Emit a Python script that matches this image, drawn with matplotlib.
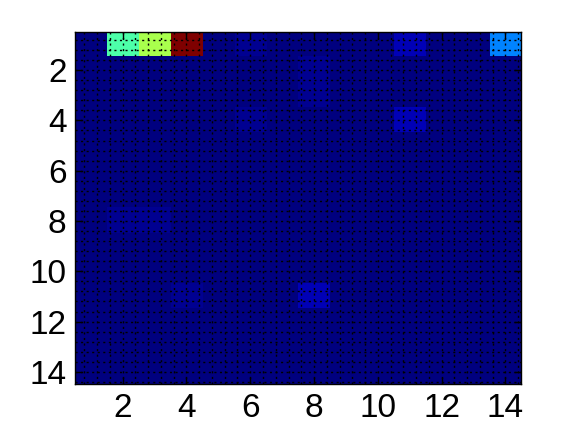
import numpy as np
import matplotlib
matplotlib.use('Agg')
import matplotlib.pyplot as plt
from matplotlib.ticker import MultipleLocator

plt.rcParams['font.family'] = ['Liberation Sans', 'DejaVu Sans']

# matrix values (rows 1..14, cols 1..14)
n = 14
vals = np.zeros((n, n))
# row 1
vals[0, 1] = 0.44
vals[0, 2] = 0.55
vals[0, 3] = 1.0
vals[0, 5] = 0.02
vals[0, 10] = 0.06
vals[0, 13] = 0.26
# faint cells elsewhere
vals[1, 7] = 0.02
vals[2, 7] = 0.03
vals[3, 5] = 0.02
vals[3, 10] = 0.05
vals[7, 1] = 0.03
vals[7, 2] = 0.03
vals[10, 3] = 0.02
vals[10, 7] = 0.05

x_ticks = [2, 4, 6, 8, 10, 12, 14]
y_ticks = [2, 4, 6, 8, 10, 12, 14]

fig = plt.figure(figsize=(5.76, 4.32), dpi=100)
ax = fig.add_axes([0.13, 0.11, 0.775, 0.815])
ax.imshow(vals, cmap=plt.get_cmap('jet', 64), vmin=0, vmax=1,
          extent=(0.5, n + 0.5, n + 0.5, 0.5), aspect='auto',
          interpolation='nearest')

ax.set_xticks(x_ticks)
ax.set_yticks(y_ticks)
ax.xaxis.set_minor_locator(MultipleLocator(0.4))
ax.yaxis.set_minor_locator(MultipleLocator(0.4))
ax.tick_params(which='both', direction='in', top=True, right=True,
               labelsize=24, color='black')
ax.tick_params(which='major', length=5, width=1.0, pad=6)
ax.tick_params(which='minor', length=0)

ax.set_axisbelow(False)
ax.grid(which='both', color='black', linestyle=(0, (1.5, 2.5)), linewidth=1.0)

for s in ax.spines.values():
    s.set_linewidth(1.0)

fig.savefig('out.png', dpi=100)
